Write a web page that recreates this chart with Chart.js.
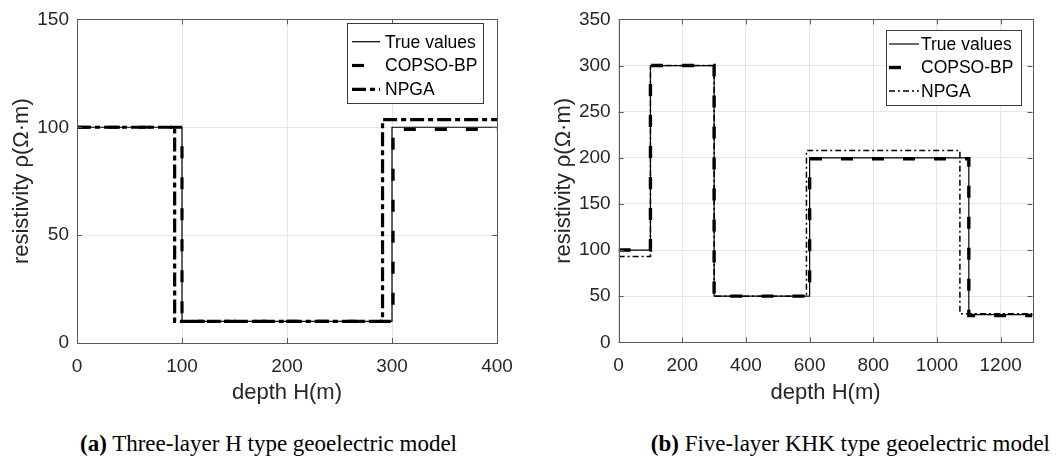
<!DOCTYPE html>
<html>
<head>
<meta charset="utf-8">
<script src="https://cdn.jsdelivr.net/npm/chart.js@4.4.1/dist/chart.umd.min.js"></script>
<style>
body{margin:0;background:#fff;width:1056px;height:462px;position:relative;overflow:hidden;}
.wrap{position:absolute;top:0;width:528px;height:420px;}
.cap{position:absolute;top:431px;font:23px "Liberation Serif","Times New Roman",serif;color:#000;white-space:nowrap;}
</style>
</head>
<body>
<div class="wrap" style="left:0"><canvas id="chartA" width="528" height="420"></canvas></div>
<div class="wrap" style="left:528px"><canvas id="chartB" width="528" height="420"></canvas></div>
<div class="cap" style="left:80px"><b>(a)</b> Three-layer H type geoelectric model</div>
<div class="cap" style="right:6px"><b>(b)</b> Five-layer KHK type geoelectric model</div>

<script>
// (a) three-layer H type: layer top depths + end depth, resistivity per layer
var trueDepthA  = [0, 100, 300, 400];
var trueRhoA    = [100, 10, 100, 100];
var copsoDepthA = [0, 100, 301, 400];
var copsoRhoA   = [100, 10, 99, 99];
var npgaDepthA  = [0, 93, 291, 400];
var npgaRhoA    = [100, 10, 103.5, 103.5];
var xTicksA = [0, 100, 200, 300, 400];
var yTicksA = [0, 50, 100, 150];

// (b) five-layer KHK type
var trueDepthB  = [0, 100, 300, 600, 1100, 1300];
var trueRhoB    = [100, 300, 50, 200, 30, 30];
var copsoDepthB = [0, 100, 300, 600, 1100, 1300];
var copsoRhoB   = [100, 300, 50, 199, 29, 29];
var npgaDepthB  = [0, 100, 300, 590, 1072, 1300];
var npgaRhoB    = [93, 300, 50, 208, 31, 31];
var xTicksB = [0, 200, 400, 600, 800, 1000, 1200];
var yTicksB = [0, 50, 100, 150, 200, 250, 300, 350];

var seriesNames = ["True values", "COPSO-BP", "NPGA"];
var FONT = '"Liberation Sans", Arial, Helvetica, sans-serif';
var TXT = "#262626";

function pts(xs, ys){
    return xs.map(function(x, i){ return {x: x, y: ys[i]}; });
}

// axes box with inward ticks + matlab-like legend
var boxLegend = {
    id: "boxLegend",
    afterDatasetsDraw: function(chart, args, o){
        var ctx = chart.ctx, a = chart.chartArea;
        var xs = chart.scales.x, ys = chart.scales.y;
        ctx.save();
        ctx.setLineDash([]);
        ctx.strokeStyle = "#5a5a5a";
        ctx.lineWidth = 1;
        ctx.beginPath();
        xs.ticks.forEach(function(t){
            var px = Math.round(xs.getPixelForValue(t.value)) + 0.5;
            ctx.moveTo(px, a.bottom); ctx.lineTo(px, a.bottom - 5);
            ctx.moveTo(px, a.top); ctx.lineTo(px, a.top + 5);
        });
        ys.ticks.forEach(function(t){
            var py = Math.round(ys.getPixelForValue(t.value)) + 0.5;
            ctx.moveTo(a.left, py); ctx.lineTo(a.left + 5, py);
            ctx.moveTo(a.right, py); ctx.lineTo(a.right - 5, py);
        });
        ctx.stroke();
        ctx.strokeRect(Math.round(a.left) + 0.5, Math.round(a.top) + 0.5,
                       Math.round(a.right - a.left), Math.round(a.bottom - a.top));

        // legend
        ctx.fillStyle = "#fff";
        ctx.fillRect(o.x, o.y, o.w, o.h);
        ctx.strokeStyle = "#3a3a3a";
        ctx.strokeRect(o.x + 0.5, o.y + 0.5, o.w, o.h);
        ctx.font = "17.5px " + FONT;
        ctx.textBaseline = "middle";
        ctx.fillStyle = "#000";
        chart.data.datasets.forEach(function(ds, i){
            var cy = o.y + o.first + i * o.row;
            ctx.strokeStyle = ds.borderColor;
            ctx.lineWidth = ds.borderWidth;
            ctx.setLineDash(ds.borderDash || []);
            ctx.beginPath();
            ctx.moveTo(o.x + o.s0, cy);
            ctx.lineTo(o.x + o.s1, cy);
            ctx.stroke();
            ctx.fillText(ds.label, o.x + o.tx, cy + 1);
        });
        ctx.restore();
    }
};

function makeChart(id, sets, xTicks, yTicks, xMax, yMax, lay){
    var ctx = document.getElementById(id).getContext("2d");
    var data = {
        datasets: sets.map(function(s, i){
            return {
                label: seriesNames[i],
                data: pts(s.x, s.y),
                borderColor: "#000",
                borderWidth: s.w,
                borderDash: s.dash,
                stepped: "before",
                pointRadius: 0,
                fill: false
            };
        })
    };
    var plain = function(v){ return String(v); };
    return new Chart(ctx, {
        type: "line",
        data: data,
        options: {
            responsive: false,
            animation: false,
            layout: { padding: { top: lay.top, right: lay.right, left: 0, bottom: 0 } },
            plugins: { legend: { display: false }, tooltip: { enabled: false }, boxLegend: lay.legend },
            scales: {
                x: {
                    type: "linear", min: 0, max: xMax,
                    afterBuildTicks: function(s){ s.ticks = xTicks.map(function(v){ return {value: v}; }); },
                    afterFit: function(s){ s.height = lay.xh; },
                    ticks: { font: { size: 19, family: FONT }, color: TXT, padding: 12, maxRotation: 0, callback: plain },
                    grid: { color: "#e6e6e6", drawTicks: false },
                    border: { display: false },
                    title: { display: true, text: "depth H(m)", color: TXT, font: { size: 22, family: FONT }, padding: { top: 0, bottom: 14 } }
                },
                y: {
                    min: 0, max: yMax,
                    afterBuildTicks: function(s){ s.ticks = yTicks.map(function(v){ return {value: v}; }); },
                    afterFit: function(s){ s.width = lay.yw; },
                    ticks: { font: { size: 19, family: FONT }, color: TXT, padding: 8, callback: plain },
                    grid: { color: "#e6e6e6", drawTicks: false },
                    border: { display: false },
                    title: { display: true, text: "resistivity \u03c1(\u03a9\u00b7m)", color: TXT, font: { size: 22, family: FONT }, padding: { top: lay.tp, bottom: 0 } }
                }
            }
        },
        plugins: [boxLegend]
    });
}

makeChart("chartA", [
    { x: trueDepthA,  y: trueRhoA,  w: 1.2, dash: [] },
    { x: copsoDepthA, y: copsoRhoA, w: 3.2, dash: [12, 19] },
    { x: npgaDepthA,  y: npgaRhoA,  w: 3.2, dash: [14, 4, 5, 4] }
], xTicksA, yTicksA, 400, 150, {
    top: 13, right: 31, xh: 77, yw: 77, tp: 9,
    legend: { x: 347, y: 23, w: 136, h: 80, first: 18.7, row: 23.8, s0: 5, s1: 33, tx: 38 }
});

makeChart("chartB", [
    { x: trueDepthB,  y: trueRhoB,  w: 1.2, dash: [] },
    { x: copsoDepthB, y: copsoRhoB, w: 3.4, dash: [12, 19] },
    { x: npgaDepthB,  y: npgaRhoB,  w: 1.5, dash: [6, 3, 2, 3] }
], xTicksB, yTicksB, 1300, 350, {
    top: 17, right: 23.5, xh: 77.7, yw: 90.6, tp: 22.4,
    legend: { x: 358, y: 30, w: 135, h: 75, first: 14, row: 23.5, s0: 3, s1: 33, tx: 35 }
});
</script>
</body>
</html>
